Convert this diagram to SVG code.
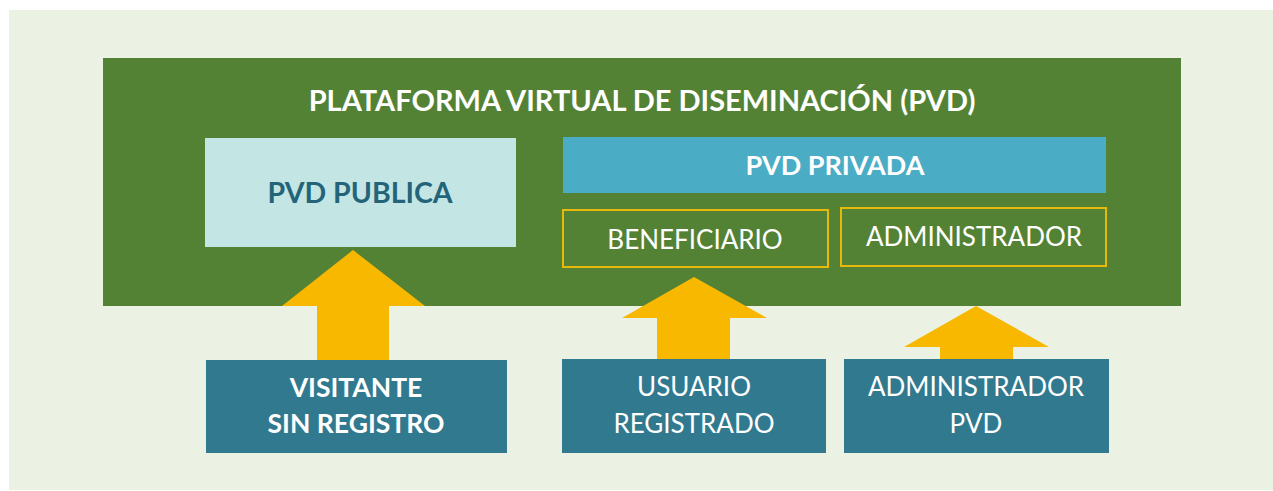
<svg xmlns="http://www.w3.org/2000/svg" width="1273" height="491" viewBox="0 0 1273 491">
<style>
text{font-family:Lato,"Open Sans","Liberation Sans",sans-serif;text-anchor:middle}
.w{fill:#ffffff}
.b{font-weight:bold}
.role{fill:#31798f}
.ybox{fill:none;stroke:#e9b90a;stroke-width:2}
.arrow{fill:#f9b800}
</style>
<rect x="0" y="0" width="1273" height="491" fill="#ffffff"/>
<rect x="9" y="10" width="1264" height="480" fill="#ebf1e3"/>
<g id="pvd">
<rect x="103" y="58" width="1078" height="248" fill="#548235"/>
<text x="642" y="111" class="w b" font-size="29">PLATAFORMA VIRTUAL DE DISEMINACIÓN (PVD)</text>
</g>
<g id="pvd-publica">
<rect x="205" y="138" width="311" height="109" fill="#c3e6e5"/>
<text x="360" y="203" class="b" font-size="28.5" fill="#246479">PVD PUBLICA</text>
</g>
<g id="pvd-privada">
<rect x="563" y="137" width="543" height="56" fill="#4bacc6"/>
<text x="835" y="175" class="w b" font-size="27">PVD PRIVADA</text>
</g>
<g id="beneficiario">
<rect x="563" y="210" width="265" height="57" class="ybox"/>
<text x="695" y="249" class="w" font-size="26">BENEFICIARIO</text>
</g>
<g id="administrador">
<rect x="841" y="208" width="265" height="58" class="ybox"/>
<text x="974" y="246" class="w" font-size="26">ADMINISTRADOR</text>
</g>
<g id="connectors">
<polygon class="arrow" points="353,250 425,306 389,306 389,360 317,360 317,306 282,306"/>
<polygon class="arrow" points="694,277 767,318 730,318 730,359 657,359 657,318 622,318"/>
<polygon class="arrow" points="976,306 1049,347 1013,347 1013,359 940,359 940,347 904,347"/>
</g>
<g id="visitante">
<rect x="206" y="360" width="301" height="93" class="role"/>
<text x="356" y="397" class="w b" font-size="26.5">VISITANTE</text>
<text x="356" y="433" class="w b" font-size="26.5">SIN REGISTRO</text>
</g>
<g id="usuario">
<rect x="562" y="359" width="264" height="94" class="role"/>
<text x="694" y="396" class="w" font-size="26">USUARIO</text>
<text x="694" y="433" class="w" font-size="26">REGISTRADO</text>
</g>
<g id="admin-pvd">
<rect x="844" y="359" width="265" height="94" class="role"/>
<text x="976" y="396" class="w" font-size="26">ADMINISTRADOR</text>
<text x="976" y="433" class="w" font-size="26">PVD</text>
</g>
</svg>
